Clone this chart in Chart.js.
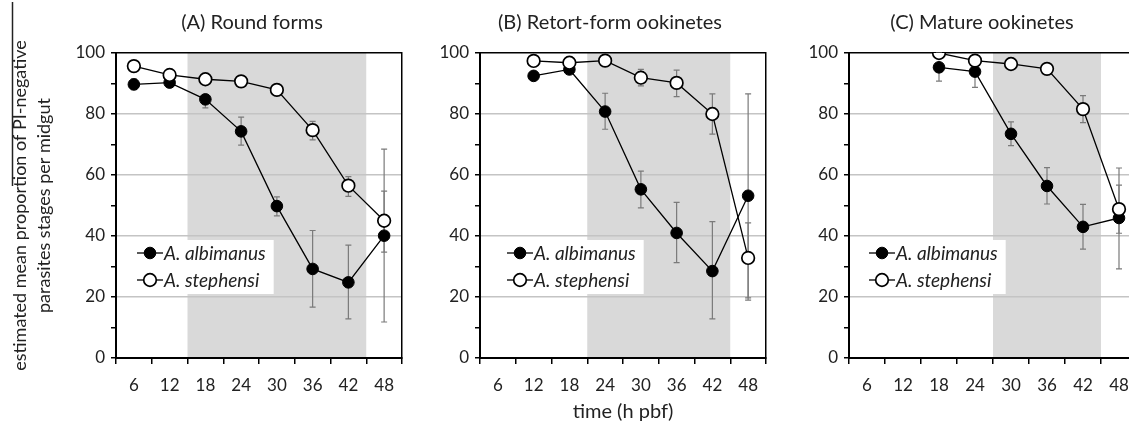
<!DOCTYPE html>
<html>
<head>
<meta charset="utf-8">
<script src="https://cdn.jsdelivr.net/npm/chart.js@4.4.1/dist/chart.umd.min.js"></script>
<style>
  html, body { margin: 0; padding: 0; background: #fff; }
  #wrap { position: relative; width: 1129px; height: 422px; overflow: hidden; }
  canvas { position: absolute; top: 0; }
</style>
</head>
<body>
<div id="wrap">
  <canvas id="chartA" width="504" height="422" style="left:0"></canvas>
  <canvas id="chartB" width="360" height="422" style="left:430px"></canvas>
  <canvas id="chartC" width="364" height="422" style="left:800px"></canvas>
</div>
<script>
// time points (h post blood feed)
const times = ['6', '12', '18', '24', '30', '36', '42', '48'];
const seriesNames = ['A. albimanus', 'A. stephensi'];

// (A) Round forms
const roundAlb   = [89.7, 90.3, 84.8, 74.3, 49.8, 29.2, 24.8, 40.1];
const roundAlbLo = [88.0, 89.6, 82.0, 69.8, 46.6, 16.7, 12.8, 11.8];
const roundAlbHi = [91.5, 91.0, 86.4, 79.0, 52.8, 41.8, 37.0, 68.5];
const roundSte   = [95.7, 92.8, 91.4, 90.7, 87.9, 74.7, 56.5, 45.0];
const roundSteLo = [95.2, 92.3, 90.9, 90.2, 87.4, 71.5, 53.0, 34.7];
const roundSteHi = [96.2, 93.3, 91.9, 91.2, 88.4, 77.6, 59.5, 54.7];
const roundShade = ['18', '42'];

// (B) Retort-form ookinetes
const retortAlb   = [null, 92.5, 94.6, 80.8, 55.3, 41.0, 28.5, 53.2];
const retortAlbLo = [null, 92.0, 93.5, 75.0, 49.2, 31.3, 12.8, 19.7];
const retortAlbHi = [null, 93.0, 95.5, 86.8, 61.3, 51.0, 44.7, 86.6];
const retortSte   = [null, 97.4, 96.8, 97.5, 91.9, 90.2, 80.0, 32.8];
const retortSteLo = [null, 97.0, 96.3, 97.0, 89.2, 85.7, 73.4, 19.0];
const retortSteHi = [null, 97.9, 97.3, 98.0, 94.6, 94.4, 86.6, 44.3];
const retortShade = ['24', '42'];

// (C) Mature ookinetes
const matureAlb   = [null, null, 95.3, 93.9, 73.5, 56.4, 43.0, 45.9];
const matureAlbLo = [null, null, 90.8, 88.7, 69.6, 50.5, 35.7, 29.2];
const matureAlbHi = [null, null, 96.0, 95.5, 77.4, 62.4, 50.4, 62.3];
const matureSte   = [null, null, 100, 97.5, 96.4, 94.8, 81.6, 48.8];
const matureSteLo = [null, null, 99.5, 97.0, 95.0, 94.3, 77.2, 40.9];
const matureSteHi = [null, null, 100, 98.0, 97.5, 95.3, 86.0, 56.7];
const matureShade = ['30', '42'];

Chart.defaults.font.family = 'Lato, sans-serif';
Chart.defaults.color = '#222';

// grey window behind the plot
const shadePlugin = {
  id: 'shade',
  beforeDraw(chart, args, opts) {
    const x = chart.scales.x, area = chart.chartArea;
    const i0 = times.indexOf(opts.from), i1 = times.indexOf(opts.to);
    const half = (x.getPixelForValue(1) - x.getPixelForValue(0)) / 2;
    const left = x.getPixelForValue(i0) - half;
    const right = x.getPixelForValue(i1) + half;
    const ctx = chart.ctx;
    ctx.save();
    ctx.fillStyle = '#d9d9d9';
    ctx.fillRect(left, area.top, right - left, area.bottom - area.top);
    ctx.restore();
  }
};

// vertical error bars
const errPlugin = {
  id: 'errbars',
  beforeDatasetsDraw(chart) {
    const ctx = chart.ctx, y = chart.scales.y;
    ctx.save();
    ctx.strokeStyle = '#7a7a7a';
    ctx.lineWidth = 1.2;
    chart.data.datasets.forEach((ds, i) => {
      const meta = chart.getDatasetMeta(i);
      ds.data.forEach((v, j) => {
        if (v == null || ds.errLo[j] == null) return;
        const px = meta.data[j].x;
        const lo = y.getPixelForValue(ds.errLo[j]);
        const hi = y.getPixelForValue(ds.errHi[j]);
        ctx.beginPath();
        ctx.moveTo(px, lo); ctx.lineTo(px, hi);
        ctx.moveTo(px - 3, lo); ctx.lineTo(px + 3, lo);
        ctx.moveTo(px - 3, hi); ctx.lineTo(px + 3, hi);
        ctx.stroke();
      });
    });
    ctx.restore();
  }
};

// legend in a white box inside the plot
const boxLegendPlugin = {
  id: 'boxLegend',
  afterDatasetsDraw(chart, args, opts) {
    const ctx = chart.ctx, area = chart.chartArea;
    const x0 = area.left + opts.dx, y0 = area.top + opts.dy;
    const rows = [chart.data.datasets[1], chart.data.datasets[0]];
    ctx.save();
    ctx.font = 'italic 19px Lato, sans-serif';
    const tw = Math.max(...rows.map(r => ctx.measureText(r.label).width));
    ctx.fillStyle = '#fff';
    ctx.fillRect(x0, y0, 34 + tw + 8, 54);
    rows.forEach((ds, k) => {
      const cy = y0 + 13 + k * 27;
      ctx.strokeStyle = '#000';
      ctx.lineWidth = 1.3;
      ctx.beginPath(); ctx.moveTo(x0 + 7, cy); ctx.lineTo(x0 + 33, cy); ctx.stroke();
      ctx.beginPath(); ctx.arc(x0 + 20, cy, ds.pointRadius, 0, Math.PI * 2);
      ctx.fillStyle = ds.pointBackgroundColor; ctx.fill();
      ctx.lineWidth = ds.pointBorderWidth; ctx.stroke();
      ctx.fillStyle = '#222';
      ctx.textBaseline = 'middle';
      ctx.fillText(ds.label, x0 + 34, cy + 1);
    });
    ctx.restore();
  }
};

// stray rule beside the y-axis title in the original figure
const ruleMarkPlugin = {
  id: 'ruleMark',
  afterDraw(chart, args, opts) {
    if (!opts.show) return;
    const ctx = chart.ctx;
    ctx.save();
    ctx.strokeStyle = '#222';
    ctx.lineWidth = 1.5;
    ctx.beginPath();
    ctx.moveTo(12.5, 2);
    ctx.lineTo(12.5, 186);
    ctx.stroke();
    ctx.restore();
  }
};

function gridColor(v) {
  if (v === 100) return '#000';
  if (v > 0 && v % 20 === 0) return '#c4c4c4';
  return 'rgba(0,0,0,0)';
}

function buildPanel(id, titleText, alb, albLo, albHi, ste, steLo, steHi, shade, cfg) {
  return new Chart(document.getElementById(id), {
    type: 'line',
    data: {
      labels: times,
      datasets: [
        { label: seriesNames[1], data: ste, errLo: steLo, errHi: steHi,
          borderColor: '#000', borderWidth: 1.3, pointRadius: 6.3,
          pointBackgroundColor: '#fff', pointBorderColor: '#000', pointBorderWidth: 1.7 },
        { label: seriesNames[0], data: alb, errLo: albLo, errHi: albHi,
          borderColor: '#000', borderWidth: 1.3, pointRadius: 5.8,
          pointBackgroundColor: '#000', pointBorderColor: '#000', pointBorderWidth: 1 }
      ]
    },
    options: {
      responsive: false,
      animation: false,
      events: [],
      plugins: {
        legend: { display: false },
        tooltip: { enabled: false },
        title: { display: true, text: titleText, color: '#222',
                 font: { size: 20, weight: 'normal', lineHeight: 1.2 },
                 padding: { top: 11, bottom: 18 } },
        shade: { from: shade[0], to: shade[1] },
        boxLegend: { dx: cfg.legendDx, dy: 187 },
        ruleMark: { show: !!cfg.yTitle }
      },
      scales: {
        x: {
          type: 'category',
          offset: true,
          grid: { display: true, offset: true, drawOnChartArea: false, drawTicks: true,
                  tickLength: 6, color: '#000', lineWidth: 1.5 },
          border: { display: true, color: '#000', width: 2 },
          ticks: { autoSkip: false, maxRotation: 0, color: '#222', font: { size: 17 }, padding: 11 },
          title: { display: !!cfg.xTitle, text: cfg.xTitle || '', color: '#222',
                   font: { size: 20, lineHeight: 1 }, padding: { top: 0, bottom: 0 } },
          afterFit: s => { s.height = 64; }
        },
        y: {
          min: 0, max: 100,
          ticks: { stepSize: 10, color: '#222', font: { size: 17 }, padding: 6,
                   callback: v => (v % 20 === 0 ? v : '') },
          grid: { drawTicks: true, tickLength: 5, lineWidth: 1.5,
                  color: c => gridColor(c.tick.value), tickColor: '#000' },
          border: { display: true, color: '#000', width: 2 },
          title: { display: !!cfg.yTitle, text: cfg.yTitle || '', color: '#222',
                   font: { size: 18, lineHeight: 1.34 }, padding: { top: 8, bottom: 0 } },
          afterFit: s => { s.width = cfg.leftW; }
        },
        yR: {
          position: 'right', min: 0, max: 100,
          grid: { display: false, drawTicks: false },
          ticks: { display: false },
          border: { display: true, color: '#000', width: 1.5 },
          afterFit: s => { s.width = cfg.rightW; }
        }
      }
    },
    plugins: [shadePlugin, errPlugin, boxLegendPlugin, ruleMarkPlugin]
  });
}

buildPanel('chartA', '(A) Round forms', roundAlb, roundAlbLo, roundAlbHi,
  roundSte, roundSteLo, roundSteHi, roundShade,
  { leftW: 116, rightW: 102, legendDx: 14,
    yTitle: ['estimated mean proportion of PI-negative', 'parasites stages per midgut'] });

buildPanel('chartB', '(B) Retort-form ookinetes', retortAlb, retortAlbLo, retortAlbHi,
  retortSte, retortSteLo, retortSteHi, retortShade,
  { leftW: 50, rightW: 24, legendDx: 20, xTitle: 'time (h pbf)' });

buildPanel('chartC', '(C) Mature ookinetes', matureAlb, matureAlbLo, matureAlbHi,
  matureSte, matureSteLo, matureSteHi, matureShade,
  { leftW: 49, rightW: 27, legendDx: 13 });
</script>
</body>
</html>
